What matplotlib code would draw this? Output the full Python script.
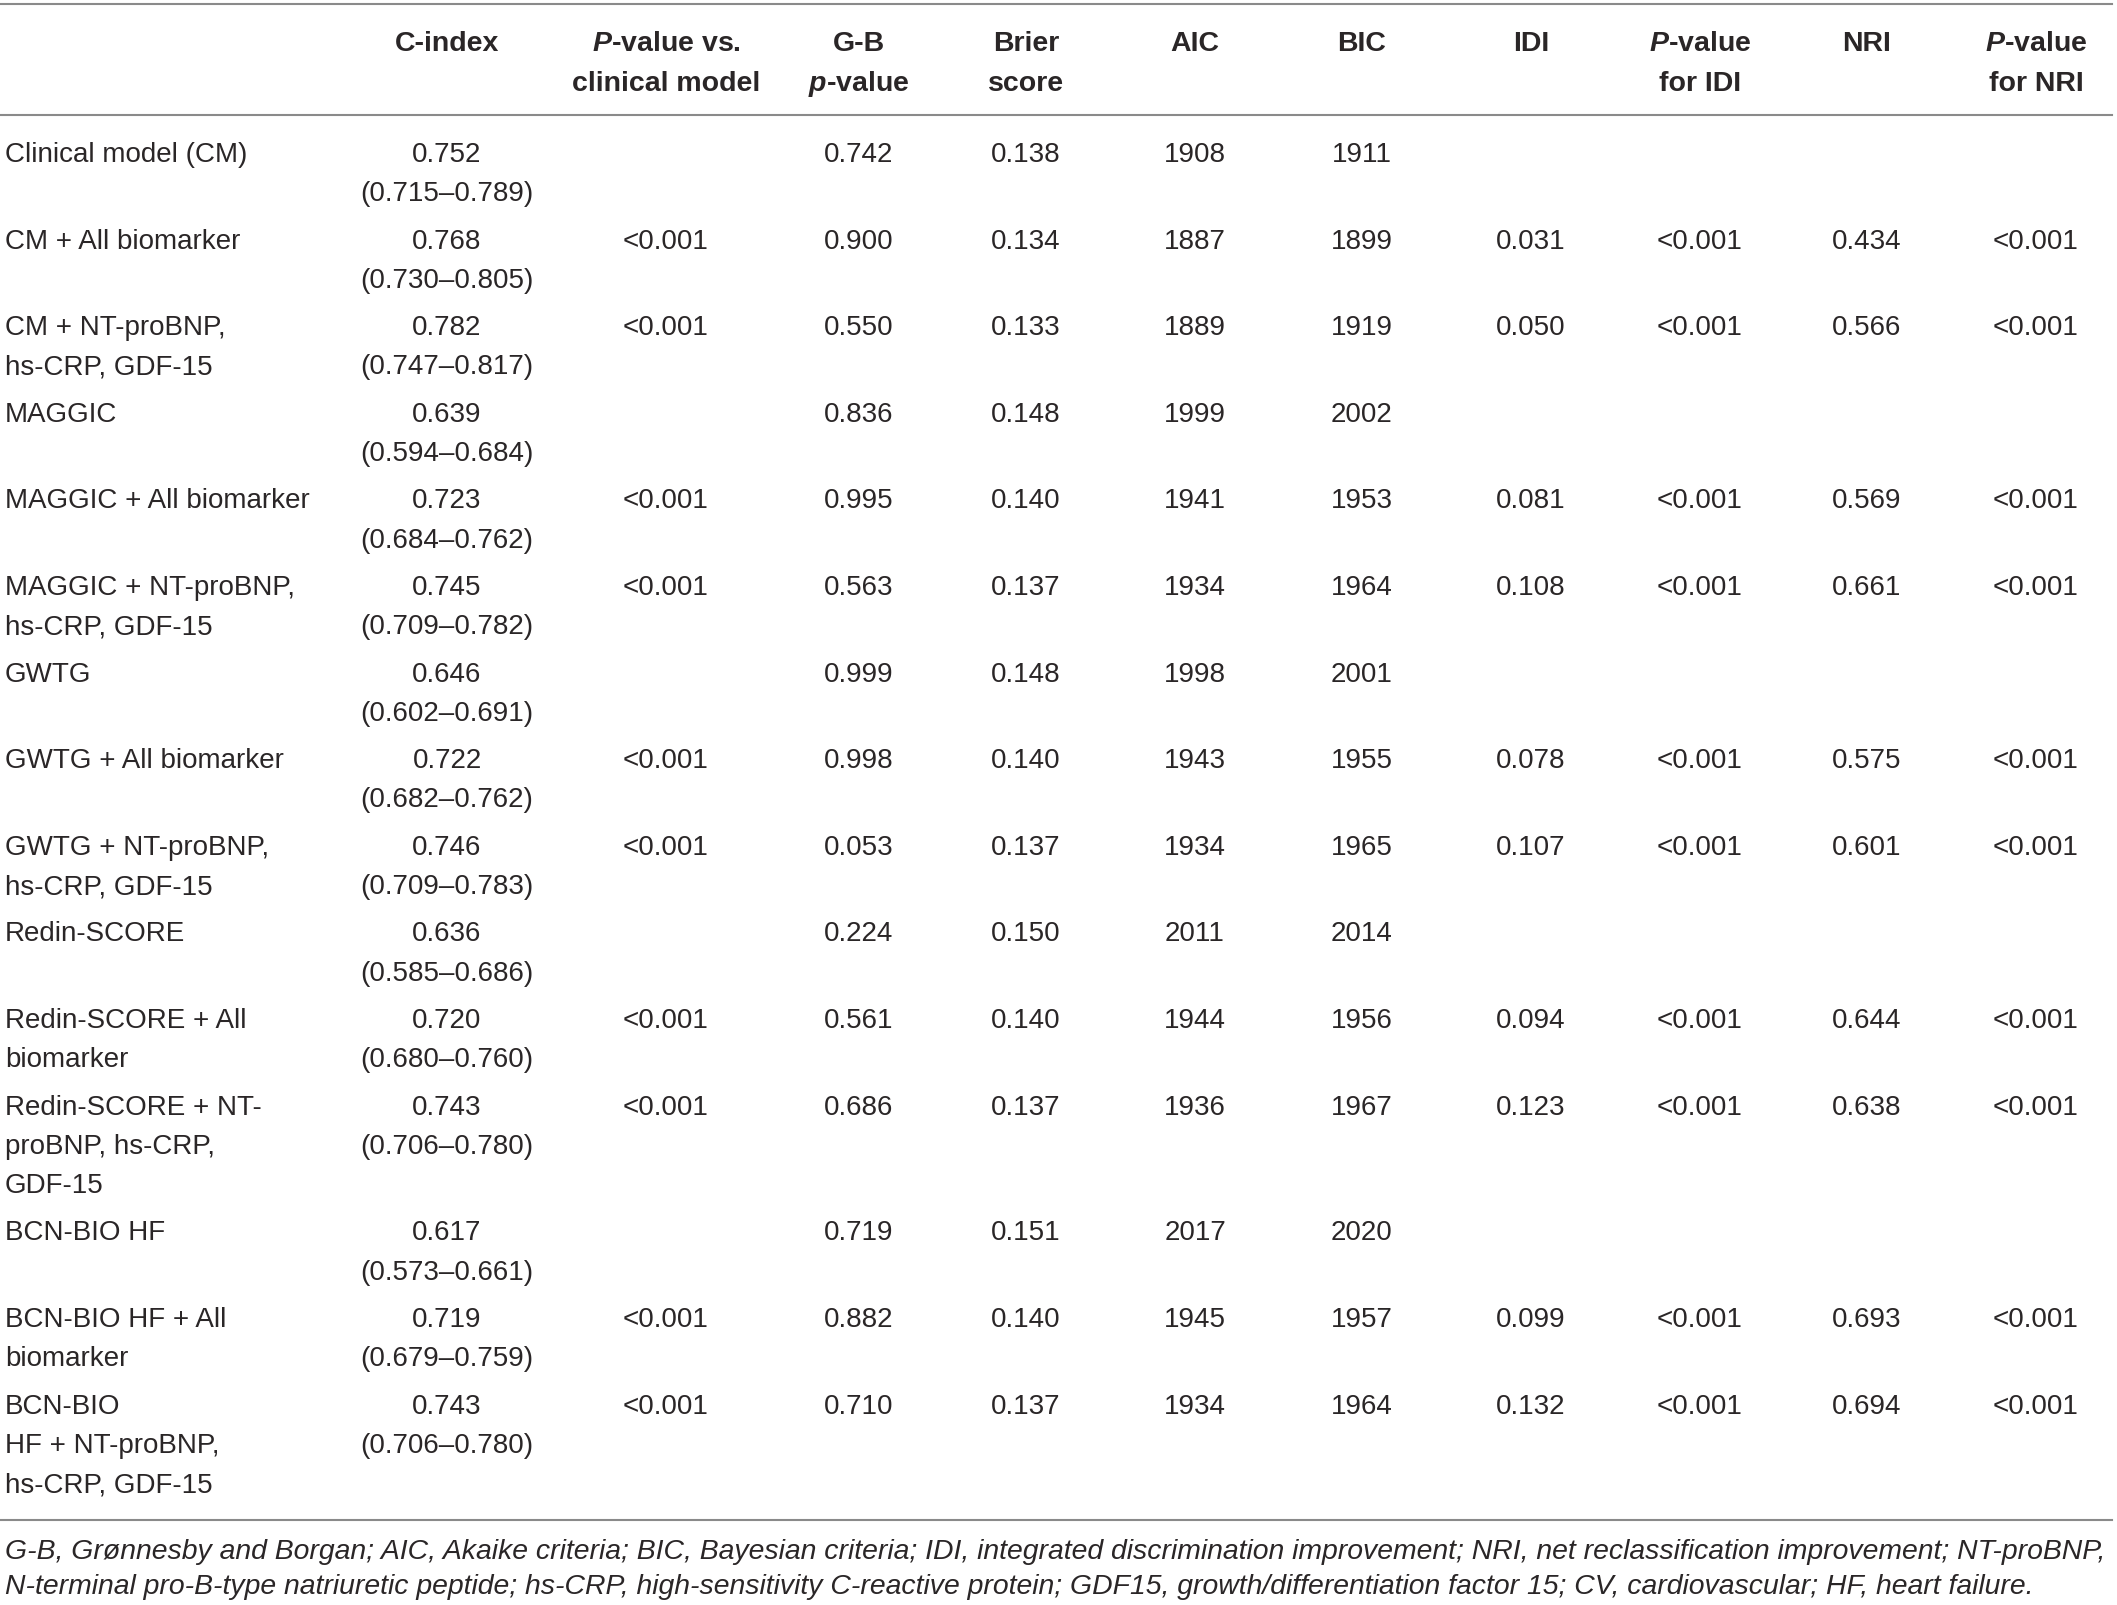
import matplotlib
matplotlib.use("Agg")
import matplotlib.pyplot as plt

plt.rcParams["font.family"] = ["Liberation Sans", "DejaVu Sans"]
plt.rcParams["mathtext.fontset"] = "custom"
plt.rcParams["mathtext.it"] = "Liberation Sans:italic:bold"
plt.rcParams["mathtext.rm"] = "Liberation Sans:bold"

headers = [
    ["C-index"],
    [r"$\mathit{P}$-value vs.", "clinical model"],
    ["G-B", r"$\mathit{p}$-value"],
    ["Brier", "score"],
    ["AIC"],
    ["BIC"],
    ["IDI"],
    [r"$\mathit{P}$-value", "for IDI"],
    ["NRI"],
    [r"$\mathit{P}$-value", "for NRI"],
]

models = [
    "Clinical model (CM)",
    "CM + All biomarker",
    "CM + NT-proBNP,\nhs-CRP, GDF-15",
    "MAGGIC",
    "MAGGIC + All biomarker",
    "MAGGIC + NT-proBNP,\nhs-CRP, GDF-15",
    "GWTG",
    "GWTG + All biomarker",
    "GWTG + NT-proBNP,\nhs-CRP, GDF-15",
    "Redin-SCORE",
    "Redin-SCORE + All\nbiomarker",
    "Redin-SCORE + NT-\nproBNP, hs-CRP,\nGDF-15",
    "BCN-BIO HF",
    "BCN-BIO HF + All\nbiomarker",
    "BCN-BIO\nHF + NT-proBNP,\nhs-CRP, GDF-15",
]

cindex = [0.752, 0.768, 0.782, 0.639, 0.723, 0.745, 0.646, 0.722, 0.746,
          0.636, 0.720, 0.743, 0.617, 0.719, 0.743]
ci_low = [0.715, 0.730, 0.747, 0.594, 0.684, 0.709, 0.602, 0.682, 0.709,
          0.585, 0.680, 0.706, 0.573, 0.679, 0.706]
ci_high = [0.789, 0.805, 0.817, 0.684, 0.762, 0.782, 0.691, 0.762, 0.783,
           0.686, 0.760, 0.780, 0.661, 0.759, 0.780]
p_vs_cm = ["", "<0.001", "<0.001", "", "<0.001", "<0.001", "", "<0.001", "<0.001",
           "", "<0.001", "<0.001", "", "<0.001", "<0.001"]
gb_p = [0.742, 0.900, 0.550, 0.836, 0.995, 0.563, 0.999, 0.998, 0.053,
        0.224, 0.561, 0.686, 0.719, 0.882, 0.710]
brier = [0.138, 0.134, 0.133, 0.148, 0.140, 0.137, 0.148, 0.140, 0.137,
         0.150, 0.140, 0.137, 0.151, 0.140, 0.137]
aic = [1908, 1887, 1889, 1999, 1941, 1934, 1998, 1943, 1934,
       2011, 1944, 1936, 2017, 1945, 1934]
bic = [1911, 1899, 1919, 2002, 1953, 1964, 2001, 1955, 1965,
       2014, 1956, 1967, 2020, 1957, 1964]
idi = [None, 0.031, 0.050, None, 0.081, 0.108, None, 0.078, 0.107,
       None, 0.094, 0.123, None, 0.099, 0.132]
p_idi = list(p_vs_cm)
nri = [None, 0.434, 0.566, None, 0.569, 0.661, None, 0.575, 0.601,
       None, 0.644, 0.638, None, 0.693, 0.694]
p_nri = list(p_vs_cm)

footnote = [
    "G-B, Grønnesby and Borgan; AIC, Akaike criteria; BIC, Bayesian criteria; "
    "IDI, integrated discrimination improvement; NRI, net reclassification improvement; NT-proBNP,",
    "N-terminal pro-B-type natriuretic peptide; hs-CRP, high-sensitivity C-reactive protein; "
    "GDF15, growth/differentiation factor 15; CV, cardiovascular; HF, heart failure.",
]


def f3(v):
    return "" if v is None else "{:.3f}".format(v)


# ---- layout ----
W, H = 2117, 1606
col_x = [447, 666, 859, 1026, 1195, 1362, 1531, 1700, 1867, 2036]
text_col = "#2a2627"
rule_col = "#8a8a8a"
fs = 20
line_h = 39.3
row_gap = 8

fig = plt.figure(figsize=(W / 100, H / 100), dpi=100)
ax = fig.add_axes([0, 0, 1, 1])
ax.set_xlim(0, W)
ax.set_ylim(H, 0)
ax.axis("off")

ax.axhline(5, 0, 2112 / W, color=rule_col, lw=1.5)
ax.axhline(116, 0, 2112 / W, color=rule_col, lw=1.5)

for x, lines in zip(col_x, headers):
    for k, s in enumerate(lines):
        ax.text(x, 51 + 40 * k, s, ha="center", va="baseline", fontsize=20.5,
                fontweight="bold", color=text_col)

y = 162
for i, name in enumerate(models):
    for k, s in enumerate(name.split("\n")):
        ax.text(5, y + k * line_h, s, ha="left", va="baseline", fontsize=fs, color=text_col)
    cells = [
        ["{:.3f}".format(cindex[i]), "({:.3f}–{:.3f})".format(ci_low[i], ci_high[i])],
        [p_vs_cm[i]], [f3(gb_p[i])], [f3(brier[i])], [str(aic[i])], [str(bic[i])],
        [f3(idi[i])], [p_idi[i]], [f3(nri[i])], [p_nri[i]],
    ]
    for x, cell in zip(col_x, cells):
        for k, s in enumerate(cell):
            if s:
                ax.text(x, y + k * line_h, s, ha="center", va="baseline", fontsize=fs,
                        color=text_col)
    n = max(2, len(name.split("\n")))
    y += n * line_h + row_gap

ax.axhline(1521, 0, 2112 / W, color=rule_col, lw=1.5)

# footnote, sized so the first line spans the table width
t1 = ax.text(5, 1559, footnote[0], ha="left", va="baseline", fontsize=15,
             style="italic", color=text_col)
t2 = ax.text(5, 1594, footnote[1], ha="left", va="baseline", fontsize=15,
             style="italic", color=text_col)
fig.canvas.draw()
w = t1.get_window_extent(fig.canvas.get_renderer()).width
fsz = 15 * 2104 / w
t1.set_fontsize(fsz)
t2.set_fontsize(fsz)

fig.savefig("out.png", dpi=100)
